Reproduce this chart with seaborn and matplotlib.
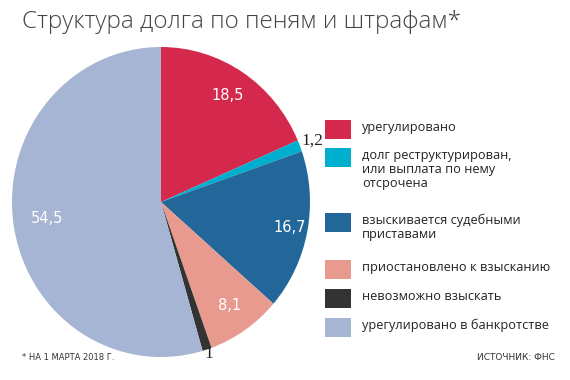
import numpy as np
import matplotlib
matplotlib.use("Agg")
import matplotlib.pyplot as plt
from matplotlib.patches import Rectangle
import seaborn as sns

# data
categories = ["урегулировано",
              "долг реструктурирован,\nили выплата по нему\nотсрочена",
              "взыскивается судебными\nприставами",
              "приостановлено к взысканию",
              "невозможно взыскать",
              "урегулировано в банкротстве"]
values = [18.5, 1.2, 16.7, 8.1, 1.0, 54.5]
value_labels = ["18,5", "1,2", "16,7", "8,1", "1", "54,5"]
colors = ["#D4294D", "#00AFCD", "#23679A", "#E89A8F", "#333333", "#A6B5D3"]

sns.set_theme(style="white")
plt.rcParams["font.family"] = ["Open Sans", "DejaVu Sans"]

W, H = 570, 380
fig = plt.figure(figsize=(W / 100, H / 100), dpi=100)
fig.patch.set_facecolor("white")

# pie axes, placed in pixels (the original is a touch taller than wide)
cx, cy, rx, ry = 161, 202, 149, 155
ax = fig.add_axes([(cx - rx) / W, 1 - (cy + ry) / H, 2 * rx / W, 2 * ry / H])
wedges, _ = ax.pie(values, colors=sns.color_palette(colors), startangle=90,
                   counterclock=False, radius=1.0,
                   wedgeprops=dict(linewidth=0))
ax.set_xlim(-1, 1)
ax.set_ylim(-1, 1)
ax.set_aspect("auto")
ax.axis("off")

# value labels
lab_r = [0.82, 1.09, 0.88, 0.81, 1.03, 0.77]
inside = [True, False, True, True, False, True]
for w, lab, rr, ins in zip(wedges, value_labels, lab_r, inside):
    ang = np.deg2rad((w.theta1 + w.theta2) / 2)
    x, y = rr * np.cos(ang), rr * np.sin(ang)
    if ins:
        ax.text(x, y, lab, ha="center", va="center", color="white",
                fontsize=10.5, family=["DejaVu Sans"])
    else:
        ax.text(x, y, lab, ha="center", va="center", color="#222222",
                fontsize=12.5, family=["Liberation Serif"], clip_on=False)

# title
fig.text(22 / W, 1 - 22 / H, "Структура долга по пеням и штрафам*",
         ha="left", va="center", fontsize=17.5, color="#444444",
         fontweight="light")

# legend
sq_top = [120, 148, 213, 260, 289, 318]
for cat, col, top in zip(categories, colors, sq_top):
    fig.patches.append(Rectangle((325 / W, 1 - (top + 19) / H), 26 / W, 19 / H,
                                 transform=fig.transFigure, color=col,
                                 linewidth=0))
    fig.text(362 / W, 1 - (top + 1) / H, cat, ha="left", va="top",
             fontsize=9.2, color="#222222", linespacing=1.1)

# footnotes
fig.text(22 / W, 1 - 358 / H, "* НА 1 МАРТА 2018 Г.", ha="left", va="center",
         fontsize=6.0, color="#333333", family=["Liberation Sans Narrow", "DejaVu Sans"])
fig.text(555 / W, 1 - 358 / H, "ИСТОЧНИК: ФНС", ha="right", va="center",
         fontsize=6.5, color="#333333", family=["Liberation Sans Narrow", "DejaVu Sans"])

fig.savefig("out.png", dpi=100, facecolor="white")
